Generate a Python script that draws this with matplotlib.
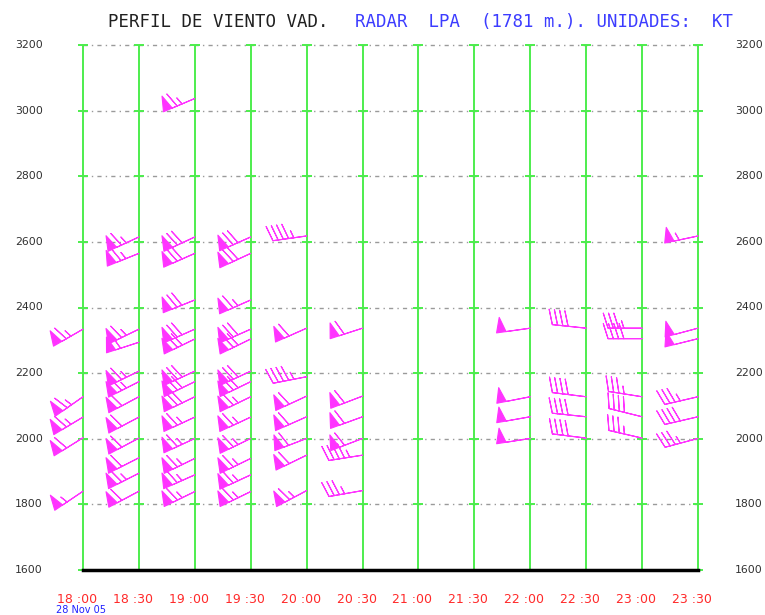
import matplotlib
matplotlib.use('Agg')
import matplotlib.pyplot as plt
import numpy as np
from matplotlib.transforms import ScaledTranslation, blended_transform_factory

# ---------------- data ----------------
time_labels = ['18 :00', '18 :30', '19 :00', '19 :30', '20 :00', '20 :30',
               '21 :00', '21 :30', '22 :00', '22 :30', '23 :00', '23 :30']
height_ticks = [1600, 1800, 2000, 2200, 2400, 2600, 2800, 3000, 3200]

# each column: heights (m), wind direction (deg, from), speed (kt)
h_1800 = [2334, 2128, 2066, 2003, 1840]
d_1800 = [240, 235, 239, 238, 236]
s_1800 = [65, 65, 65, 60, 55]

h_1830 = [2615, 2565, 2334, 2294, 2206, 2174, 2128, 2066, 2002, 1942, 1895, 1840]
d_1830 = [245, 248, 244, 252, 244, 243, 242, 242, 242, 243, 243, 242]
s_1830 = [65, 65, 65, 60, 65, 65, 60, 60, 60, 60, 65, 60]

h_1900 = [3037, 2615, 2565, 2423, 2334, 2304, 2206, 2174, 2128, 2066, 2001, 1940, 1890, 1839]
d_1900 = [247, 245, 246, 248, 246, 244, 245, 244, 244, 245, 245, 244, 246, 244]
s_1900 = [65, 70, 70, 70, 70, 70, 70, 70, 70, 65, 65, 65, 65, 65]

h_1930 = [2615, 2565, 2423, 2334, 2304, 2206, 2174, 2128, 2066, 2001, 1940, 1890, 1839]
d_1930 = [246, 245, 246, 246, 244, 245, 244, 244, 245, 244, 244, 245, 244]
s_1930 = [70, 70, 65, 70, 70, 70, 70, 65, 65, 65, 65, 65, 65]

h_2000 = [2618, 2337, 2189, 2130, 2067, 2001, 1950, 1842]
d_2000 = [262, 246, 259, 245, 246, 249, 244, 242]
s_2000 = [45, 60, 45, 60, 60, 60, 60, 65]

h_2030 = [2337, 2130, 2067, 2001, 1950, 1842]
d_2030 = [252, 249, 250, 249, 261, 260]
s_2030 = [60, 60, 60, 60, 45, 35]

h_2200 = [2337, 2128, 2067, 2001]
d_2200 = [262, 259, 260, 261]
s_2200 = [50, 50, 50, 50]

h_2230 = [2337, 2128, 2067, 2002]
d_2230 = [276, 277, 276, 277]
s_2230 = [40, 40, 40, 40]

h_2300 = [2337, 2305, 2128, 2067, 2002]
d_2300 = [270, 270, 279, 284, 283]
s_2300 = [35, 40, 35, 40, 35]

h_2330 = [2618, 2337, 2305, 2128, 2067, 2001]
d_2330 = [258, 255, 256, 257, 257, 255]
s_2330 = [55, 50, 50, 35, 40, 35]

columns = [(0, h_1800, d_1800, s_1800), (1, h_1830, d_1830, s_1830),
           (2, h_1900, d_1900, s_1900), (3, h_1930, d_1930, s_1930),
           (4, h_2000, d_2000, s_2000), (5, h_2030, d_2030, s_2030),
           (8, h_2200, d_2200, s_2200), (9, h_2230, d_2230, s_2230),
           (10, h_2300, d_2300, s_2300), (11, h_2330, d_2330, s_2330)]

bx, by, bu, bv = [], [], [], []
for ti, hs, ds, ss in columns:
    for h, d, s in zip(hs, ds, ss):
        r = np.deg2rad(d)
        bx.append(ti)
        by.append(h)
        bu.append(-s * np.sin(r))
        bv.append(-s * np.cos(r))

# ---------------- figure ----------------
W, H = 765, 615
fig = plt.figure(figsize=(W / 100, H / 100), dpi=100)
ax = fig.add_axes([83 / W, 1 - 570 / H, 615 / W, 525 / H])
ax.set_xlim(0, 11)
ax.set_ylim(1600, 3200)

green = '#4ded4d'
grid_h = height_ticks[1:]
ax.hlines(grid_h, 0, 11, colors='#9a9a9a', linewidth=1.0,
          linestyles=(0, (3, 3, 1, 3)), zorder=1, clip_on=False)
ax.vlines(range(12), 1600, 3200, colors=green, linewidth=1.4, zorder=2,
          clip_on=False)
gx, gy = np.meshgrid(np.arange(12), height_ticks)
ax.plot(gx.ravel(), gy.ravel(), ls='none', marker='_', ms=7, mew=1.4,
        color=green, zorder=2, clip_on=False)

ax.barbs(bx, by, bu, bv, length=7, barbcolor='#ff33ff', flagcolor='#ff33ff',
         linewidth=0.8, clip_on=False, zorder=3,
         sizes=dict(spacing=0.155, height=0.44, width=0.28))

for sp in ['top', 'left', 'right']:
    ax.spines[sp].set_visible(False)
ax.spines['bottom'].set_color('black')
ax.spines['bottom'].set_linewidth(2.5)
ax.spines['bottom'].set_zorder(4)

ax.set_yticks(height_ticks)
ax.set_yticklabels([])
ax.tick_params(axis='y', left=False, right=False, labelleft=False)
tr = blended_transform_factory(ax.transAxes, ax.transData)
off_l = ScaledTranslation(-40 / 100, 0, fig.dpi_scale_trans)
off_r = ScaledTranslation(37 / 100, 0, fig.dpi_scale_trans)
for v in height_ticks:
    ax.text(0, v, str(v), transform=tr + off_l, ha='right', va='center',
            size=7.8, color='#303030')
    ax.text(1, v, str(v), transform=tr + off_r, ha='left', va='center',
            size=7.8, color='#303030')

ax.set_xticks(range(12))
ax.set_xticklabels(time_labels)
ax.tick_params(axis='x', bottom=False, pad=13, labelsize=9, labelcolor='#ff2a2a')
off = ScaledTranslation(-6 / 100, 0, fig.dpi_scale_trans)
for lab in ax.get_xticklabels():
    lab.set_transform(lab.get_transform() + off)

ty = 1 - 27 / H
fig.text(108 / W, ty, 'PERFIL DE VIENTO VAD.', family='DejaVu Sans Mono',
         size=12.5, color='#202020', va='baseline', ha='left')
fig.text(355 / W, ty, 'RADAR  LPA  (1781 m.). UNIDADES:  KT',
         family='DejaVu Sans Mono', size=12.5, color='#3c3cff',
         va='baseline', ha='left')
fig.text(56 / W, 1 - 605 / H, '28 Nov 05', size=7, color='#2020ff',
         va='top', ha='left')

fig.savefig('out.png', dpi=100)
